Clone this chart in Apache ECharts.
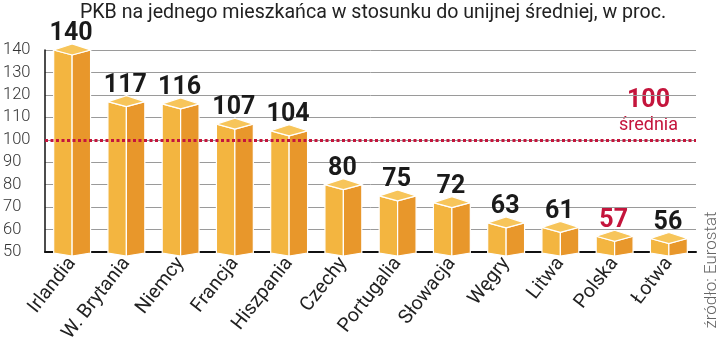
<!DOCTYPE html>
<html><head><meta charset="utf-8">
<script src="https://cdn.jsdelivr.net/npm/echarts@6/dist/echarts.min.js"></script>
<style>html,body{margin:0;padding:0;background:#fff}#c{width:720px;height:356px}</style>
</head><body><div id="c"></div>
<script>
const categories = ['Irlandia','W. Brytania','Niemcy','Francja','Hiszpania','Czechy','Portugalia','Słowacja','Węgry','Litwa','Polska','Łotwa'];
const values = [140,117,116,107,104,80,75,72,63,61,57,56];
const highlighted = 'Polska';
const yTicks = [50,60,70,80,90,100,110,120,130,140];
const averageValue = 100;
const titleText = 'PKB na jednego mieszkańca w stosunku do unijnej średniej, w proc.';
const sourceText = 'źródło: Eurostat';

const RED = '#c4153c';
const chart = echarts.init(document.getElementById('c'), null, {renderer:'canvas'});
const data = values.map((v,i)=>[i,v]);
const yMin = yTicks[0], yMax = yTicks[yTicks.length-1];

function renderItem(params, api){
  const i = api.value(0), v = api.value(1);
  const top = api.coord([i, v]);
  const base = api.coord([i, yMin]);
  const w = api.size([1,0])[0]*0.68;
  const cx = top[0], h = w/2, y = top[1], b = base[1], d = 5;
  const stroke = {stroke:'#fff', lineWidth:1.2};
  const name = categories[i];
  return {type:'group', children:[
    {type:'polygon', shape:{points:[[cx-h,y],[cx,y+d],[cx,b+4],[cx-h,b+1]]}, style:Object.assign({fill:'#f3b540'},stroke)},
    {type:'polygon', shape:{points:[[cx,y+d],[cx+h,y],[cx+h,b+1],[cx,b+4]]}, style:Object.assign({fill:'#e8972b'},stroke)},
    {type:'polygon', shape:{points:[[cx-h,y],[cx,y-d-1],[cx+h,y],[cx,y+d]]}, style:Object.assign({fill:'#f7c55a'},stroke)},
    {type:'text', style:{text:String(v), x:cx-1, y:y-16, align:'center', verticalAlign:'middle',
      font:'bold 25px Roboto', fill: name===highlighted ? RED : '#1a1a1a'}}
  ]};
}

chart.setOption({
  animation:false,
  title:{text:titleText, left:368, top:-2, textAlign:'center',
    textStyle:{fontFamily:'Roboto', fontWeight:'normal', fontSize:19.6, color:'#222'}},
  grid:{left:38, right:24, top:50, bottom:104},
  xAxis:{type:'category', data:categories, boundaryGap:true,
    axisLine:{lineStyle:{color:'#111', width:2}}, axisTick:{show:false},
    axisLabel:{rotate:52, margin:8, fontFamily:'Roboto', fontSize:19.5, color:'#222', interval:0}},
  yAxis:{type:'value', min:yMin, max:yMax, interval:10,
    axisLine:{show:true, lineStyle:{color:'#111', width:1.5}}, axisTick:{show:false},
    axisLabel:{margin:6, align:'left', padding:[0,0,0,-36], fontFamily:'Roboto', fontWeight:300, fontSize:16.5, color:'#333'},
    splitLine:{lineStyle:{color:'#9a9a9a', width:1}}},
  series:[{type:'custom', renderItem, data, clip:false, z:3,
    markLine:{silent:true, symbol:'none', z:5, label:{show:false},
      lineStyle:{color:RED, width:3, type:[3,2.5]}, data:[{yAxis:averageValue}]}}],
  graphic:[
    {type:'text', left:627, top:88, style:{text:String(averageValue), font:'bold 25px Roboto', fill:RED}},
    {type:'text', left:619, top:116, style:{text:'średnia', font:'18px Roboto', fill:RED}},
    {type:'text', x:712, y:270, rotation:Math.PI/2, style:{text:sourceText, align:'center', verticalAlign:'middle', font:'300 17px Roboto', fill:'#666'}}
  ]
});
</script></body></html>
